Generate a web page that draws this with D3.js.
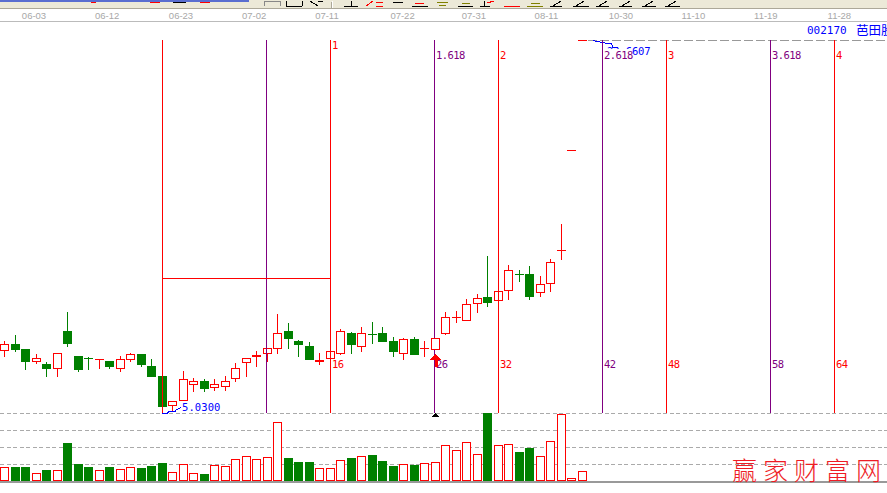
<!DOCTYPE html>
<html><head><meta charset="utf-8">
<script src="https://cdn.jsdelivr.net/npm/d3@7/dist/d3.min.js"></script>
<style>html,body{margin:0;padding:0;background:#fff;overflow:hidden}svg{display:block}</style>
</head><body><div id="c"></div>
<script>
const open = [8.18,8.48,8.23,7.63,7.48,7.28,9.13,7.88,7.78,7.73,7.63,7.28,7.73,7.98,7.38,6.88,5.43,5.68,6.48,6.63,6.33,6.38,6.78,7.58,7.88,8.03,8.28,9.13,8.63,8.38,7.63,7.78,8.03,9.03,8.38,8.98,9.03,8.63,8.03,8.73,8.28,8.23,9.03,9.83,9.68,10.53,10.83,10.68,11.18,11.98,11.98,11.08,11.53,13.18,18.18,23.68];
const high = [8.63,8.93,8.23,7.98,7.58,8.03,10.08,7.88,7.83,7.73,7.63,7.88,8.03,7.98,7.73,6.88,5.63,7.13,6.78,6.73,6.73,6.88,7.53,7.78,8.13,8.28,9.98,9.53,8.68,8.58,8.03,8.13,9.23,9.08,9.33,9.58,9.33,8.83,8.78,8.83,8.63,8.78,10.08,10.13,10.73,10.98,12.88,11.13,12.43,12.18,12.38,11.88,12.73,14.48,18.18,23.68];
const low = [7.88,8.13,7.23,7.53,6.88,6.88,8.38,7.13,7.23,7.28,7.28,7.13,7.63,7.38,6.88,5.38,5.18,5.68,6.13,6.13,6.18,6.18,6.63,6.88,7.38,7.63,8.03,8.28,7.88,7.73,7.48,7.78,7.98,8.03,8.13,8.53,8.63,7.88,7.73,7.98,7.88,8.23,8.98,9.58,9.68,10.08,10.38,10.68,10.73,11.63,10.73,10.88,11.13,12.73,18.18,23.68];
const close = [8.48,8.23,7.63,7.78,7.28,8.03,8.53,7.23,7.77,7.73,7.38,7.73,7.98,7.48,6.88,5.38,5.63,6.73,6.63,6.28,6.48,6.63,7.28,7.78,7.93,8.28,9.03,8.78,8.48,7.73,7.68,8.13,9.13,8.48,9.03,8.97,8.63,8.13,8.73,7.98,8.28,8.78,9.83,9.83,10.48,10.78,10.58,11.13,12.18,11.97,10.88,11.48,12.58,13.18,18.18,23.68];
const volume = [14,14,14,8,11,11,38,17,14,11,14,12,14,13,15,18,9,17,8,7,16,15,22,25,22,24,59,23,19,19,13,13,21,23,25,26,20,15,17,16,18,19,36,31,39,27,68,36,37,29,33,25,40,67,3,10];
const dateLabels = ["06-03","06-12","06-23","07-02","07-11","07-22","07-31","08-11","10-30","11-10","11-19","11-28"];
const dateSlots = [2.8,9.76,16.8,23.76,30.7,37.9,44.7,51.6,58.7,65.6,72.5,79.5];
const fibRatios = [0.618,1,1.618,2,2.618,3,3.618,4];
const fibLabels = ["","1","1.618","2","2.618","3","3.618","4"];
const fibCounts = ["","16","26","32","42","48","58","64"];
const fibStart = 15, fibUnit = 16, selectedBar = 41;
const lowPrice = 5.03, highLabel = "23.6607", lowLabel = "-5.0300";
const rangeLinePrice = 11.78;
const gridVolumes = [68,51,34,17];
const title = "002170", titleName = "芭田股份", watermark = ["赢","家","财","富","网"];

const W=887,H=493,RED="#ff0000",GREEN="#008000",PURPLE="#800080",BLUE="#0000ff",MONO="'DejaVu Sans Mono',monospace";
const svg=d3.select("#c").append("svg").attr("width",W).attr("height",H).style("shape-rendering","crispEdges");
const x=d3.scaleLinear().domain([0,1]).range([4.6,15.1]);
const yP=d3.scaleLinear().domain([5.03,23.68]).range([413,40]);
const yV=d3.scaleLinear().domain([0,68]).range([481,413]);
const px=v=>Math.floor(v)+.5, py=v=>Math.round(v)+.5;

// toolbar
svg.append("rect").attr("width",W).attr("height",8).attr("fill","#ece9d8");
svg.append("rect").attr("width",249).attr("height",2).attr("fill","#5a6ed0");
svg.append("rect").attr("y",8).attr("width",W).attr("height",1).attr("fill","#aca899");
svg.append("rect").attr("y",21).attr("width",W).attr("height",1).attr("fill","#bbbbbb");
const tb=svg.append("g").attr("fill","none");
[[331,1.5,331,8,"#aca899"],[332,1,332,8,"#fff"],[91,2.5,96,2.5,RED],[150,2.5,160,2.5,RED],[173,2.5,186,2.5,"#000"],[200,2.5,210,2.5,RED],
 [344,6.5,358,6.5,"#000"],[351,1,351,6,"#000"],[366,6,373,1,RED],[376,2.5,383,2.5,RED],[376,6.5,383,6.5,RED],[393,2.5,403,2.5,"#000"],
 [412,6.5,428,6.5,"#000"],[415,3,424,3,RED],[437,2.5,448,2.5,"#808000"],[439,5.5,446,5.5,"#808000"],[458,6.5,473,6.5,"#000"],[462,3,470,3,"#808000"],
 [480,6.5,490,6.5,"#000"],[484,1,484,6,"#000"],[487,3,494,1,RED],[504,6.5,520,6.5,RED],[527,6.5,543,6.5,"#808000"],[531,3,540,3,"#808000"],
 [550,6.5,562,6.5,"#000"],[573,6.5,589,6.5,"#000"],[596,6.5,609,6.5,"#000"],[619,6.5,632,6.5,"#000"],[642,6.5,656,6.5,"#000"],[665,6.5,680,6.5,"#000"],
 [553,6,561,1,"#000"],[576,6,584,1,"#000"],[599,6,607,1,"#000"],[622,6,630,1,"#000"],[645,6,653,1,"#000"],[668,6,676,1,"#000"],
 [264,1,280,1,"#888"],[264,1,264,6,"#888"],[280,1,280,6,"#888"],[286,6.5,302,6.5,"#000"],[286,1,286,6,"#000"],[302,1,302,6,"#000"],[310,1,318,6,"#000"],[318,1,323,1,"#000"]]
 .forEach(d=>tb.append("line").attr("x1",d[0]).attr("y1",d[1]).attr("x2",d[2]).attr("y2",d[3]).attr("stroke",d[4]));

// date labels
svg.append("g").selectAll("text").data(dateLabels).join("text")
 .attr("x",(d,i)=>x(dateSlots[i])).attr("y",19).attr("text-anchor","middle")
 .attr("font-family","Liberation Sans").attr("font-size",9.5).attr("fill","#a8a8a8").text(d=>d);

// volume grid
svg.append("g").selectAll("line").data(gridVolumes).join("line")
 .attr("x1",0).attr("x2",W).attr("y1",d=>py(yV(d))).attr("y2",d=>py(yV(d)))
 .attr("stroke","#aaaaaa").attr("stroke-dasharray","4,2.5");
svg.append("rect").attr("y",481).attr("width",W).attr("height",2).attr("fill","#999999");

// top limit line
svg.append("line").attr("x1",588).attr("x2",W).attr("y1",40.5).attr("y2",40.5).attr("stroke","#999999").attr("stroke-dasharray","9,3");

// title
svg.append("text").attr("x",807).attr("y",34).attr("font-family",MONO).attr("font-size",11).attr("fill",BLUE).text(title);
svg.append("text").attr("x",856).attr("y",35).attr("font-family","Noto Sans CJK SC").attr("font-size",12.5).attr("fill",BLUE).text(titleName);

// candles
const data=open.map((o,i)=>({i,o,h:high[i],l:low[i],c:close[i],v:volume[i],up:close[i]>=o}));
function drawCandle(g,d){
  const cx=px(x(d.i)),col=d.up?RED:GREEN;
  const top=Math.round(yP(Math.max(d.o,d.c))),bot=Math.round(yP(Math.min(d.o,d.c)));
  const wh=Math.round(yP(d.h)),wl=Math.round(yP(d.l));
  if(wl>wh) g.append("line").attr("x1",cx).attr("x2",cx).attr("y1",wh).attr("y2",wl+1).attr("stroke",col);
  if(bot-top<=1||!d.up){
    g.append("rect").attr("x",cx-4.5).attr("y",top).attr("width",9).attr("height",bot-top+1).attr("fill",col);
  } else {
    g.append("rect").attr("x",cx-4).attr("y",top+.5).attr("width",8).attr("height",bot-top).attr("fill","#fff").attr("stroke",col);
  }
}
const cg=svg.append("g");
data.forEach(d=>{
  const cx=px(x(d.i)),col=d.up?RED:GREEN;
  if(d.i!==selectedBar) drawCandle(cg,d);
  const vt=Math.round(yV(d.v));
  if(d.up) cg.append("rect").attr("x",cx-4).attr("y",vt+.5).attr("width",8).attr("height",481-vt-1).attr("fill","#fff").attr("stroke",col);
  else cg.append("rect").attr("x",cx-4.5).attr("y",vt).attr("width",9).attr("height",481-vt).attr("fill",col);
});

// blue high/low callouts
const ax=x(fibStart)-.1, ay=yP(lowPrice);
svg.append("path").attr("fill","none").attr("stroke",BLUE)
 .attr("d",d3.line()([[ax,ay+.5],[ax+5,ay+.5],[ax+7,ay-1.5],[ax+13,ay-1.5],[ax+14,ay-3],[ax+19,ay-5.5]]));
svg.append("text").attr("x",ax+20).attr("y",ay-2).attr("font-family",MONO).attr("font-size",10.5).attr("letter-spacing",.1).attr("fill",BLUE).text(lowLabel.slice(1));
const bx=x(56), by=yP(23.68);
svg.append("path").attr("fill","none").attr("stroke",BLUE)
 .attr("d",d3.line()([[bx,by+.5],[bx+7,by+2],[bx+12,by+3],[bx+19,by+4],[bx+20,by+7],[bx+25,by+7]]));
svg.append("text").attr("x",607).attr("y",55).attr("font-family",MONO).attr("font-size",10.5).attr("letter-spacing",-.1).attr("fill",BLUE).text(highLabel);

// fib lines
const fx=r=>Math.round(x(fibStart)-.1+(x(fibUnit)-x(0))*r);
const lines=svg.append("g");
const drawV=(xx,col)=>lines.append("line").attr("x1",xx+.5).attr("x2",xx+.5).attr("y1",40).attr("y2",413).attr("stroke",col);
drawV(Math.round(x(fibStart)-.1),RED);
fibRatios.forEach((r,i)=>{
  const xx=fx(r), col=(i%2===0)?PURPLE:RED;
  drawV(xx,col);
  if(fibLabels[i]){
    const ly=fibLabels[i]==="1"?49:59;
    if(fibLabels[i]==="2.618") lines.append("rect").attr("x",xx+1).attr("y",49).attr("width",29).attr("height",13).attr("fill","#fff");
    lines.append("text").attr("x",xx+2).attr("y",ly).attr("font-family",MONO).attr("font-size",10.5).attr("letter-spacing",-.6).attr("fill",col).text(fibLabels[i]);
    lines.append("text").attr("x",xx+2).attr("y",368).attr("font-family",MONO).attr("font-size",10.5).attr("letter-spacing",-.6).attr("fill",col).text(fibCounts[i]);
  }
});
// horizontal red range line
svg.append("line").attr("x1",Math.round(x(fibStart)-.1)).attr("x2",fx(1)).attr("y1",py(yP(rangeLinePrice))).attr("y2",py(yP(rangeLinePrice))).attr("stroke",RED);

// selected bar stays above the lines
drawCandle(svg.append("g"),data[selectedBar]);

// arrow + triangle at the selected bar
const arrowX=fx(1.618)+1.5;
svg.append("path").attr("fill",RED).attr("d",d3.line()([[arrowX,354],[arrowX+5.5,360],[arrowX+2,360],[arrowX+2,367],[arrowX-1,367],[arrowX-1,360],[arrowX-5.5,360]])+"Z");
svg.append("path").attr("fill","#000").attr("d",d3.line()([[arrowX,413],[arrowX+3.5,417],[arrowX-3.5,417]])+"Z");

// watermark
svg.append("g").selectAll("text").data(watermark).join("text")
 .attr("x",(d,i)=>732+i*31).attr("y",480).attr("font-family","Noto Sans CJK SC").attr("font-weight",300).attr("font-size",25)
 .attr("fill","#ee1c25").style("shape-rendering","auto").text(d=>d);
</script></body></html>
